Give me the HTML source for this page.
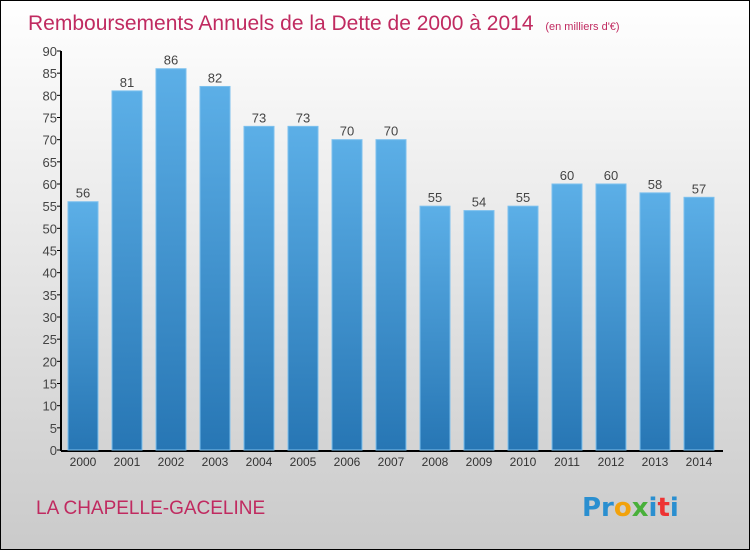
<!DOCTYPE html>
<html><head><meta charset="utf-8"><style>
html,body{margin:0;padding:0}
body{width:750px;height:550px;overflow:hidden;font-family:"Liberation Sans",sans-serif}
</style></head><body>
<svg width="750" height="550" xmlns="http://www.w3.org/2000/svg">
<defs>
<linearGradient id="bg" x1="0" y1="0" x2="0" y2="1"><stop offset="0" stop-color="#ffffff"/><stop offset="1" stop-color="#cacaca"/></linearGradient>
<linearGradient id="bar" x1="0" y1="0" x2="0" y2="1"><stop offset="0" stop-color="#5cafe7"/><stop offset="1" stop-color="#2776b4"/></linearGradient>
</defs>
<rect x="0.5" y="0.5" width="749" height="549" fill="url(#bg)" stroke="#000"/>
<text x="28" y="30" font-size="21" fill="#c02a60" font-family="Liberation Sans, sans-serif">Remboursements Annuels de la Dette de 2000 à 2014 <tspan font-size="11" dx="6">(en milliers d'€)</tspan></text>
<g id="yaxis"></g>
<g id="bars"></g>
<text x="36" y="514" font-size="19" fill="#c02a60">LA CHAPELLE-GACELINE</text>
<text x="582" y="516" font-size="26" font-weight="bold" font-family="DejaVu Sans, sans-serif"><tspan fill="#2a8fd0">Pr</tspan><tspan fill="#f2a20c">o</tspan><tspan fill="#49b03a">x</tspan><tspan fill="#2a8fd0">i</tspan><tspan fill="#e33">t</tspan><tspan fill="#2a8fd0">i</tspan></text>
</svg>
<script>
const years=["2000","2001","2002","2003","2004","2005","2006","2007","2008","2009","2010","2011","2012","2013","2014"];
const values=[56,81,86,82,73,73,70,70,55,54,55,60,60,58,57];
const yTicks=[0,5,10,15,20,25,30,35,40,45,50,55,60,65,70,75,80,85,90];
const NS="http://www.w3.org/2000/svg";
const y0=450,yTop=51,yMax=90,x0=61,band=44,bw=30;
const yS=v=>y0-(v/yMax)*(y0-yTop);
const xC=i=>x0+band/2+band*i;
function mk(t,a,p){const e=document.createElementNS(NS,t);for(const k in a)e.setAttribute(k,a[k]);p.appendChild(e);return e;}
const ya=document.getElementById('yaxis');
const axl=mk('line',{x1:x0,y1:yTop,x2:x0,y2:y0+1,stroke:'#000','stroke-width':2},ya);


const xl=mk('line',{x1:x0,y1:y0+1,x2:x0+band*15+2,y2:y0+1,stroke:'#000','stroke-width':2},ya);


yTicks.forEach(v=>{
 const tk=mk('line',{x1:x0-4,y1:yS(v),x2:x0,y2:yS(v),stroke:'#000'},ya);
 
 
 const t=mk('text',{x:x0-4,y:yS(v)+5,'font-size':13,'text-anchor':'end',fill:'#444'},ya);
 t.textContent=v;
 
 
});
const bg=document.getElementById('bars');
values.forEach((v,i)=>{
 const r=mk('rect',{x:xC(i)-bw/2,y:yS(v),width:bw,height:y0-yS(v),fill:'url(#bar)',stroke:'#7cc0ee','stroke-width':1},bg);
 
 
 const t=mk('text',{x:xC(i),y:yS(v)-4,'font-size':13,'text-anchor':'middle',fill:'#444'},bg);
 t.textContent=v;
 
 
 const xlb=mk('text',{x:xC(i),y:y0+16,'font-size':12,'text-anchor':'middle',fill:'#333'},bg);
 xlb.textContent=years[i];
 
 
});
</script>
</body></html>
